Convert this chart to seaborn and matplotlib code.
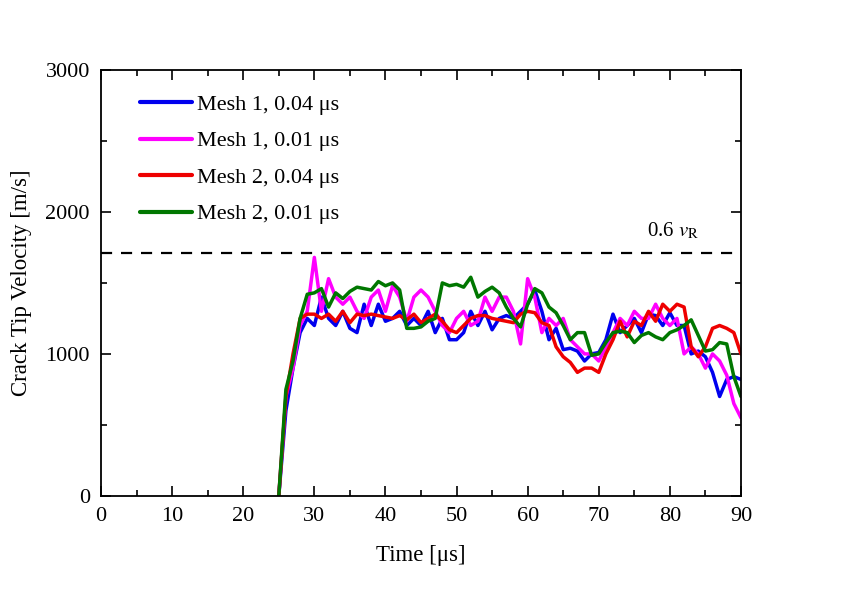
import numpy as np
import pandas as pd
import matplotlib
matplotlib.use('Agg')
import matplotlib.pyplot as plt
import seaborn as sns
from matplotlib.ticker import MultipleLocator

# ------------------------------------------------------- #
#                          DATOS                          #
# ------------------------------------------------------- #
time = list(range(25, 91))

mesh1_004 = [0, 600, 900, 1150, 1250, 1200, 1400, 1250, 1200, 1300,
             1180, 1150, 1350, 1200, 1350, 1230, 1250, 1300, 1200, 1250,
             1200, 1300, 1150, 1250, 1100, 1100, 1150, 1300, 1200, 1300,
             1170, 1250, 1270, 1250, 1300, 1350, 1450, 1300, 1100, 1180,
             1030, 1040, 1020, 950, 1000, 1010, 1100, 1280, 1150, 1200,
             1250, 1150, 1280, 1270, 1200, 1290, 1200, 1200, 1000, 1020,
             980, 870, 700, 820, 840, 820]

mesh1_001 = [0, 700, 900, 1200, 1300, 1680, 1300, 1530, 1400, 1350,
             1400, 1300, 1250, 1400, 1450, 1300, 1480, 1400, 1230, 1400,
             1450, 1400, 1300, 1200, 1150, 1250, 1300, 1200, 1230, 1400,
             1300, 1400, 1400, 1300, 1070, 1530, 1400, 1150, 1250, 1200,
             1250, 1100, 1050, 1000, 1000, 950, 1050, 1150, 1250, 1200,
             1300, 1250, 1250, 1350, 1250, 1200, 1250, 1000, 1050, 1000,
             900, 1000, 950, 850, 650, 550]

mesh2_004 = [0, 700, 1000, 1250, 1280, 1280, 1250, 1280, 1230, 1300,
             1220, 1280, 1270, 1280, 1270, 1260, 1250, 1270, 1240, 1280,
             1220, 1250, 1280, 1230, 1170, 1150, 1200, 1250, 1270, 1270,
             1250, 1240, 1230, 1220, 1280, 1300, 1290, 1220, 1200, 1050,
             980, 940, 870, 900, 900, 870, 1000, 1100, 1230, 1120,
             1230, 1200, 1300, 1230, 1350, 1300, 1350, 1330, 1050, 980,
             1050, 1180, 1200, 1180, 1150, 1000]

mesh2_001 = [0, 750, 950, 1250, 1420, 1430, 1460, 1330, 1430, 1390,
             1440, 1470, 1460, 1450, 1510, 1480, 1500, 1450, 1180, 1180,
             1190, 1230, 1250, 1500, 1480, 1490, 1470, 1540, 1400, 1440,
             1470, 1430, 1330, 1250, 1190, 1350, 1460, 1430, 1330, 1290,
             1200, 1100, 1150, 1150, 990, 1000, 1080, 1150, 1160, 1150,
             1080, 1130, 1150, 1120, 1100, 1150, 1170, 1200, 1240, 1130,
             1020, 1030, 1080, 1070, 840, 700]

labels = ['Mesh 1, 0.04 μs', 'Mesh 1, 0.01 μs',
          'Mesh 2, 0.04 μs', 'Mesh 2, 0.01 μs']
v_rayleigh_06 = 1710

# Formato largo para seaborn
df = pd.concat([
    pd.DataFrame({'time': time, 'velocity': vals, 'serie': lab})
    for vals, lab in zip([mesh1_004, mesh1_001, mesh2_004, mesh2_001], labels)
])

# ------------------------------------------------------- #
#                         GRAFICO                         #
# ------------------------------------------------------- #
sns.set_style('ticks')
plt.rcParams['font.family'] = ['Liberation Serif', 'DejaVu Serif']
plt.rcParams['mathtext.fontset'] = 'stix'
plt.rcParams['text.color'] = 'black'
plt.rcParams['axes.labelcolor'] = 'black'
plt.rcParams['xtick.color'] = 'black'
plt.rcParams['ytick.color'] = 'black'
plt.rcParams['axes.edgecolor'] = 'black'

fig = plt.figure(figsize=(8.42, 5.96), dpi=100)
ax = fig.add_axes([0.12, 0.168, 0.76, 0.7146])

colores = ['#0000ee', '#ff00ff', '#ee0000', '#007700']
sns.lineplot(data=df, x='time', y='velocity', hue='serie',
             palette=colores, linewidth=2.5, ax=ax)

ax.axhline(v_rayleigh_06, color='black', ls='--', lw=1.6, dashes=(5, 4))
ax.text(76.8, 1830, r'0.6 $v_{\mathrm{R}}$', fontsize=15)

ax.set_xlim(0, 90)
ax.set_ylim(0, 3000)
ax.xaxis.set_major_locator(MultipleLocator(10))
ax.xaxis.set_minor_locator(MultipleLocator(5))
ax.yaxis.set_major_locator(MultipleLocator(1000))
ax.yaxis.set_minor_locator(MultipleLocator(500))
ax.tick_params(which='both', direction='in', top=True, right=True,
               labelsize=16, width=1.2, pad=8)
ax.tick_params(which='major', length=7)
ax.tick_params(which='minor', length=4)
for s in ax.spines.values():
    s.set_linewidth(1.3)

ax.set_xlabel('Time [μs]', fontsize=16.5, labelpad=14)
ax.set_ylabel('Crack Tip Velocity [m/s]', fontsize=16.5, labelpad=10)

ax.legend(loc='upper left', frameon=False, fontsize=16, handlelength=2.36,
          handletextpad=0.23, labelspacing=0.72, borderaxespad=0.5,
          bbox_to_anchor=(0.029, 0.99))
leg = ax.get_legend()
for line in leg.get_lines():
    line.set_linewidth(3)

plt.savefig('out.png', dpi=100)
